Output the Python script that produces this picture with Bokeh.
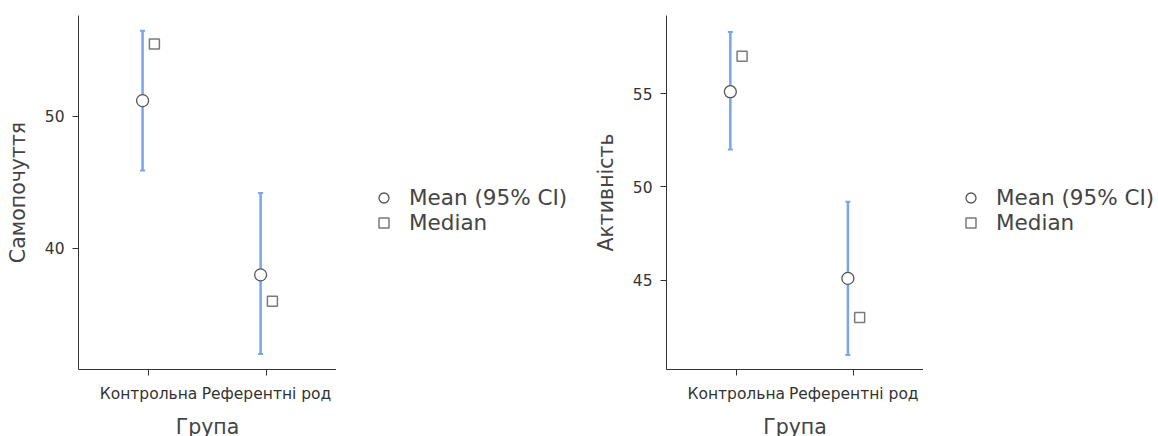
from bokeh.plotting import figure
from bokeh.layouts import row
from bokeh.models import (ColumnDataSource, Range1d, FixedTicker, Whisker, TeeHead,
                          Legend, LegendItem)
from bokeh.transform import dodge
from bokeh.embed import file_html
from bokeh.resources import INLINE

# Groups on the x axis
groups = ["Контрольна", "Референтні род"]
group_pos = [1, 2]

# Самопочуття: mean, 95% CI and median per group
wellbeing_mean = [51.2, 38.0]
wellbeing_lower = [45.9, 32.0]
wellbeing_upper = [56.5, 44.2]
wellbeing_median = [55.5, 36.0]
wellbeing_ticks = [40, 50]

# Активність: mean, 95% CI and median per group
activity_mean = [55.1, 45.1]
activity_lower = [52.0, 41.0]
activity_upper = [58.3, 49.2]
activity_median = [57.0, 43.0]
activity_ticks = [45, 50, 55]

legend_labels = ["Mean (95% CI)", "Median"]

FONT = "DejaVu Sans"
TEXT = "#333333"
CI_COLOR = "#78A5EC"
MEAN_STYLE = dict(marker="circle", fill_color="white", line_color="#555555", line_width=1.3)
MEDIAN_STYLE = dict(marker="square", fill_color="white", line_color="#7a7a7a", line_width=1.5)


def make_panel(ylabel, src, y_range, yticks, border_left, frame_w):
    p = figure(frame_width=frame_w, frame_height=354,
               output_backend="svg", toolbar_location=None,
               x_range=Range1d(0.407, 2.593), y_range=Range1d(*y_range),
               min_border_left=border_left, min_border_right=0,
               min_border_top=15, min_border_bottom=67)
    p.outline_line_color = None
    p.grid.visible = False
    p.background_fill_color = "white"
    p.border_fill_color = "white"

    ci = Whisker(base=dodge("x", -0.05), upper="upper", lower="lower", source=src,
                 dimension="height", line_color=CI_COLOR, line_width=2.5,
                 upper_head=TeeHead(size=5, line_color=CI_COLOR, line_width=2),
                 lower_head=TeeHead(size=5, line_color=CI_COLOR, line_width=2))
    p.add_layout(ci)

    p.scatter(x=dodge("x", -0.05), y="mean", source=src, size=12, **MEAN_STYLE)
    p.scatter(x=dodge("x", 0.05), y="median", source=src, size=10, **MEDIAN_STYLE)

    for ax in (p.xaxis[0], p.yaxis[0]):
        ax.axis_line_color = TEXT
        ax.axis_line_width = 1
        ax.major_tick_line_color = TEXT
        ax.major_tick_out = 6
        ax.major_tick_in = 0
        ax.minor_tick_line_color = None
        ax.major_label_text_font = FONT
        ax.major_label_text_font_size = "15.5px"
        ax.major_label_text_color = TEXT
        ax.axis_label_text_font = FONT
        ax.axis_label_text_font_size = "20.5px"
        ax.axis_label_text_font_style = "normal"
        ax.axis_label_text_color = "#444444"

    p.xaxis.ticker = FixedTicker(ticks=group_pos)
    p.xaxis.major_label_overrides = {pos: g for pos, g in zip(group_pos, groups)}
    p.xaxis.axis_label = "Група"
    p.xaxis.major_label_standoff = 9
    p.xaxis.axis_label_standoff = 9

    p.yaxis.ticker = FixedTicker(ticks=yticks)
    p.yaxis.axis_label = ylabel
    p.yaxis.major_label_standoff = 8
    p.yaxis.axis_label_standoff = 12
    return p


def make_legend(width, src):
    # A bare figure beside each panel that only shows the legend; its ranges
    # keep the (shared) data points out of view.
    p = figure(width=width, height=436, output_backend="svg", toolbar_location=None,
               x_range=Range1d(-3, -2), y_range=Range1d(-3, -2),
               x_axis_location=None, y_axis_location=None,
               min_border=0)
    p.outline_line_color = None
    p.grid.visible = False
    r_mean = p.scatter(x="x", y="mean", source=src, size=12, **MEAN_STYLE)
    r_med = p.scatter(x="x", y="median", source=src, size=10, **MEDIAN_STYLE)
    legend = Legend(items=[LegendItem(label=legend_labels[0], renderers=[r_mean]),
                           LegendItem(label=legend_labels[1], renderers=[r_med])],
                    location=(35, 129), margin=0, padding=0, spacing=0,
                    glyph_width=25, glyph_height=25, label_height=25,
                    label_standoff=13, border_line_color=None,
                    background_fill_alpha=0,
                    label_text_font=FONT, label_text_font_size="21.5px",
                    label_text_color="#444444")
    p.add_layout(legend)
    return p


src_wellbeing = ColumnDataSource(dict(x=group_pos, mean=wellbeing_mean,
                                      lower=wellbeing_lower, upper=wellbeing_upper,
                                      median=wellbeing_median))
src_activity = ColumnDataSource(dict(x=group_pos, mean=activity_mean,
                                     lower=activity_lower, upper=activity_upper,
                                     median=activity_median))

left = make_panel("Самопочуття", src_wellbeing, (30.83, 57.65), wellbeing_ticks, 78, 258)
right = make_panel("Активність", src_activity, (40.22, 59.18), activity_ticks, 87, 257)

layout = row(left, make_legend(243, src_wellbeing), right,
             make_legend(235, src_activity), spacing=0)
open("out.html", "w").write(file_html(layout, INLINE))
